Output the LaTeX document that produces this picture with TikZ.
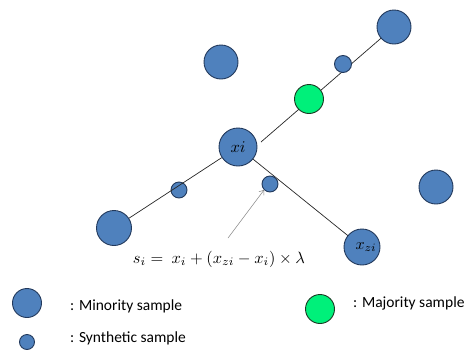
\documentclass[tikz,border=0pt]{standalone}
\usepackage{graphicx}
\usepackage{fontspec}
\setmainfont{Carlito}
\usetikzlibrary{arrows.meta}
\definecolor{minblue}{HTML}{4F81BD}
\definecolor{minedge}{HTML}{22395C}
\definecolor{majgreen}{HTML}{00F07A}
\definecolor{majedge}{HTML}{1C3A24}
\tikzset{
  big/.style={circle, draw=minedge, fill=minblue, line width=0.9pt, minimum size=34pt, inner sep=0pt},
  small/.style={circle, draw=minedge, fill=minblue, line width=0.9pt, minimum size=16pt, inner sep=0pt},
  maj/.style={circle, draw=majedge, fill=majgreen, line width=0.9pt, minimum size=29pt, inner sep=0pt},
  link/.style={draw=black!85, line width=0.7pt},
  legtext/.style={anchor=west, font=\fontsize{15.5}{17}\selectfont, inner sep=0pt},
}
\begin{document}
\begin{tikzpicture}[x=1pt,y=-1pt]
\useasboundingbox (0,0) rectangle (472,349);
% coordinates for lines
\coordinate (tr) at (394,27);
\coordinate (xic) at (238,147);
\coordinate (bl) at (114,228);
\coordinate (xz) at (362,247);
\coordinate (gapend) at (261,142);
% lines behind
\draw[link] (tr) -- (gapend);
\draw[link] (xic) -- (xz);
% nodes
\node[big] (ntr) at (tr) {};
\node[big] (ntl) at (221,62) {};
\node[big, minimum size=38pt] (nxi) at (xic) {\resizebox{15pt}{!}{$xi$}};
\node[big] (nr) at (436,187) {};
\node[big, minimum size=35pt] (nbl) at (bl) {};
\node[big, minimum size=36pt] (nxz) at (xz) {};
\node (lxz) at (366,247) {\resizebox{21pt}{!}{$x_{zi}$}};
\node[maj] (ng) at (309,99) {};
\node[small, minimum size=17pt] (s1) at (343,64) {};
\node[small] (s2) at (179,190) {};
\node[small] (s3) at (270,184) {};
\draw[link] (nbl) -- (nxi);
% arrow
\coordinate (arrstart) at (228,238);
\draw[gray, line width=0.5pt, -{Straight Barb[length=4pt,width=6pt]}] (arrstart) -- (s3.south west);
% formula
\node (formula) at (219,259) {\resizebox{172pt}{!}{$s_i =\ x_i + (x_{zi} - x_i) \times \lambda$}};
% legend
\node[big, minimum size=29pt] (lmin) at (27,303) {};
\node[legtext] (tmin) at (70,306) {: Minority sample};
\node[small, minimum size=15pt] (lsyn) at (27,342) {};
\node[legtext] (tsyn) at (70,338) {: Synthetic sample};
\node[maj] (lmaj) at (320,309) {};
\node[legtext] (tmaj) at (353,303) {: Majority sample};
\end{tikzpicture}
\end{document}
